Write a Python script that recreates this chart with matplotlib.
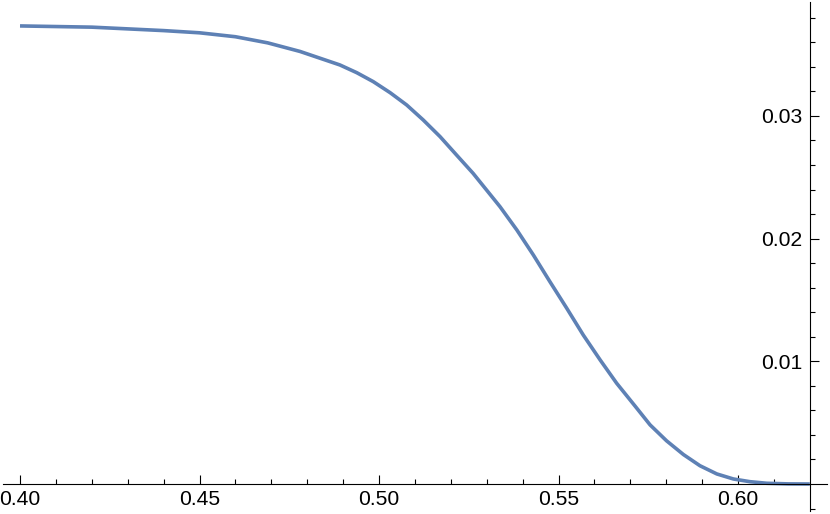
import numpy as np
import matplotlib
matplotlib.use('Agg')
import matplotlib.pyplot as plt
from matplotlib.ticker import FixedLocator, FormatStrFormatter

plt.rcParams['font.family'] = ['Liberation Sans', 'DejaVu Sans']

# values
x_vals = [0.400, 0.420, 0.440, 0.450, 0.460, 0.469, 0.478, 0.4891, 0.4938,
          0.4984, 0.5031, 0.5077, 0.5123, 0.5170, 0.5216, 0.5262, 0.5337,
          0.5384, 0.5430, 0.5476, 0.5523, 0.5569, 0.5616, 0.5662, 0.5713,
          0.5755, 0.5801, 0.5848, 0.5894, 0.5941, 0.5987, 0.6033, 0.6080,
          0.6140, 0.6200]
y_vals = [0.03733, 0.03723, 0.03695, 0.03677, 0.03645, 0.03595, 0.03525,
          0.03415, 0.03352, 0.03279, 0.03189, 0.03089, 0.02967, 0.02831,
          0.02681, 0.02532, 0.02260, 0.02070, 0.01866, 0.01649, 0.01432,
          0.01214, 0.01011, 0.00821, 0.00636, 0.00482, 0.00352, 0.00240,
          0.00149, 0.00082, 0.00041, 0.00019, 0.00006, 0.00001, 0.0]

x_major = [0.40, 0.45, 0.50, 0.55, 0.60]
x_minor = [0.41, 0.42, 0.43, 0.44, 0.46, 0.47, 0.48, 0.49, 0.51, 0.52,
           0.53, 0.54, 0.56, 0.57, 0.58, 0.59, 0.61]
y_major = [0.01, 0.02, 0.03]
y_minor = [-0.002, 0.002, 0.004, 0.006, 0.008, 0.012, 0.014, 0.016, 0.018,
           0.022, 0.024, 0.026, 0.028, 0.032, 0.034, 0.036, 0.038]

fig = plt.figure(figsize=(8.3, 5.14), dpi=100)
ax = fig.add_axes([3 / 830, 3 / 514, 824 / 830, 509 / 514])

ax.plot(x_vals, y_vals, color='#5E81B5', lw=2.6, solid_capstyle='butt',
        solid_joinstyle='round')

ax.set_xlim(0.39526, 0.62479)
ax.set_ylim(-0.0022, 0.03928)

for s in ['top', 'right']:
    ax.spines[s].set_visible(False)
ax.spines['bottom'].set_position(('data', 0))
ax.spines['left'].set_position(('data', 0.62))
for s in ['bottom', 'left']:
    ax.spines[s].set_linewidth(0.8)
    ax.spines[s].set_color('black')

ax.xaxis.set_major_locator(FixedLocator(x_major))
ax.xaxis.set_minor_locator(FixedLocator(x_minor))
ax.yaxis.set_major_locator(FixedLocator(y_major))
ax.yaxis.set_minor_locator(FixedLocator(y_minor))
ax.xaxis.set_major_formatter(FormatStrFormatter('%.2f'))
ax.yaxis.set_major_formatter(FormatStrFormatter('%.2f'))

ax.tick_params(axis='both', which='major', direction='in', length=6.5,
               width=0.8, labelsize=15.2, color='black')
ax.tick_params(axis='both', which='minor', direction='in', length=3.8,
               width=0.8, color='black')
ax.tick_params(axis='x', which='major', pad=4.5)
ax.tick_params(axis='y', which='major', pad=5)

fig.savefig('out.png', dpi=100)
